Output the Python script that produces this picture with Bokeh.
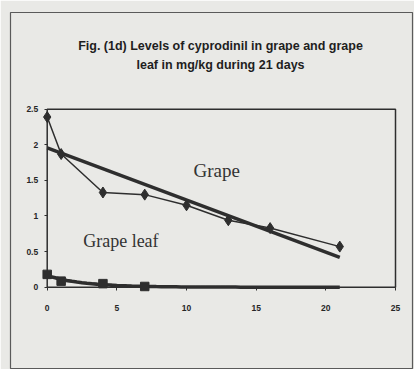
import numpy as np
from bokeh.plotting import figure
from bokeh.models import Range1d, Label
from bokeh.embed import file_html
from bokeh.resources import INLINE

# ---- data ----
grape_days = [0, 1, 4, 7, 10, 13, 16, 21]
grape_mgkg = [2.39, 1.87, 1.33, 1.30, 1.15, 0.94, 0.83, 0.57]
leaf_days = [0, 1, 4, 7]
leaf_mgkg = [0.18, 0.085, 0.05, 0.01]
x_ticks = [0, 5, 10, 15, 20, 25]
y_ticks = [0, 0.5, 1, 1.5, 2, 2.5]
y_tick_labels = ["0", "0.5", "1", "1.5", "2", "2.5"]
title_lines = ["Fig. (1d) Levels of cyprodinil in grape and grape",
               "leaf in mg/kg during 21 days"]

INK = "#2e2e2e"
PAPER = "#e9e9e6"

# the frame is the whole framed chart box; the axes sit at 0 inside it
p = figure(width=414, height=369, output_backend="svg", toolbar_location=None,
           x_range=Range1d(-2.635, 26.22), y_range=Range1d(-1.156, 3.858),
           min_border_left=10, min_border_right=2,
           min_border_top=12, min_border_bottom=0)
p.background_fill_color = PAPER
p.border_fill_color = PAPER
p.outline_line_color = "#5a5a5a"
p.outline_line_width = 1.2
p.xgrid.visible = False
p.ygrid.visible = False

for ax in (p.xaxis, p.yaxis):
    ax.fixed_location = 0
    ax.axis_line_color = None
    ax.major_tick_line_color = INK
    ax.major_tick_out = 3
    ax.major_tick_in = 0
    ax.minor_tick_line_color = None
    ax.major_label_text_font = "Liberation Sans"
    ax.major_label_text_font_style = "bold"
    ax.major_label_text_font_size = "8.5px"
    ax.major_label_text_color = "#262626"
p.xaxis.ticker = x_ticks
p.xaxis.major_label_standoff = 15
p.yaxis.ticker = y_ticks
p.yaxis.major_label_overrides = {t: s for t, s in zip(y_ticks, y_tick_labels)}
p.yaxis.major_label_standoff = 6

# plot box: axis lines at 0 plus top and right edges
bx = [x_ticks[0], x_ticks[0], x_ticks[-1], x_ticks[-1], x_ticks[0]]
by = [y_ticks[0], y_ticks[-1], y_ticks[-1], y_ticks[0], y_ticks[0]]
p.line(bx, by, line_color=INK, line_width=1.5)

# trend lines (least squares, as the spreadsheet trendlines)
gx = np.array(grape_days, dtype=float)
gy = np.array(grape_mgkg, dtype=float)
k, b = np.polyfit(gx, gy, 1)
tx = np.array([gx.min(), gx.max()])
p.line(tx, k * tx + b, line_color=INK, line_width=3.5)

lx = np.array(leaf_days, dtype=float)
ly = np.array(leaf_mgkg, dtype=float)
lk, lb = np.polyfit(lx, np.log(ly), 1)
ltx = np.linspace(0, gx.max(), 60)
p.line(ltx, np.exp(lb + lk * ltx), line_color=INK, line_width=3.5)

# data series
p.line(grape_days, grape_mgkg, line_color=INK, line_width=1.5)
p.scatter(grape_days, grape_mgkg, marker="diamond", size=11,
          fill_color=INK, line_color=INK)
p.line(leaf_days, leaf_mgkg, line_color=INK, line_width=1.5)
p.scatter(leaf_days, leaf_mgkg, marker="square", size=8.5,
          fill_color=INK, line_color=INK)

# in-plot series names
p.add_layout(Label(x=10.5, y=1.49, text="Grape", text_font="Liberation Serif",
                   text_font_size="19px", text_color="#333333"))
p.add_layout(Label(x=2.58, y=0.51, text="Grape leaf", text_font="Liberation Serif",
                   text_font_size="18px", text_color="#333333"))

# chart title, two centred bold lines inside the box
for t, ty in zip(title_lines, [3.385, 3.124]):
    p.add_layout(Label(x=12.44, y=ty, text=t, text_align="center",
                       text_baseline="middle", text_font="Liberation Sans",
                       text_font_style="bold", text_font_size="12.5px",
                       text_color="#1e1e1e"))

open("out.html", "w").write(file_html(p, INLINE))
